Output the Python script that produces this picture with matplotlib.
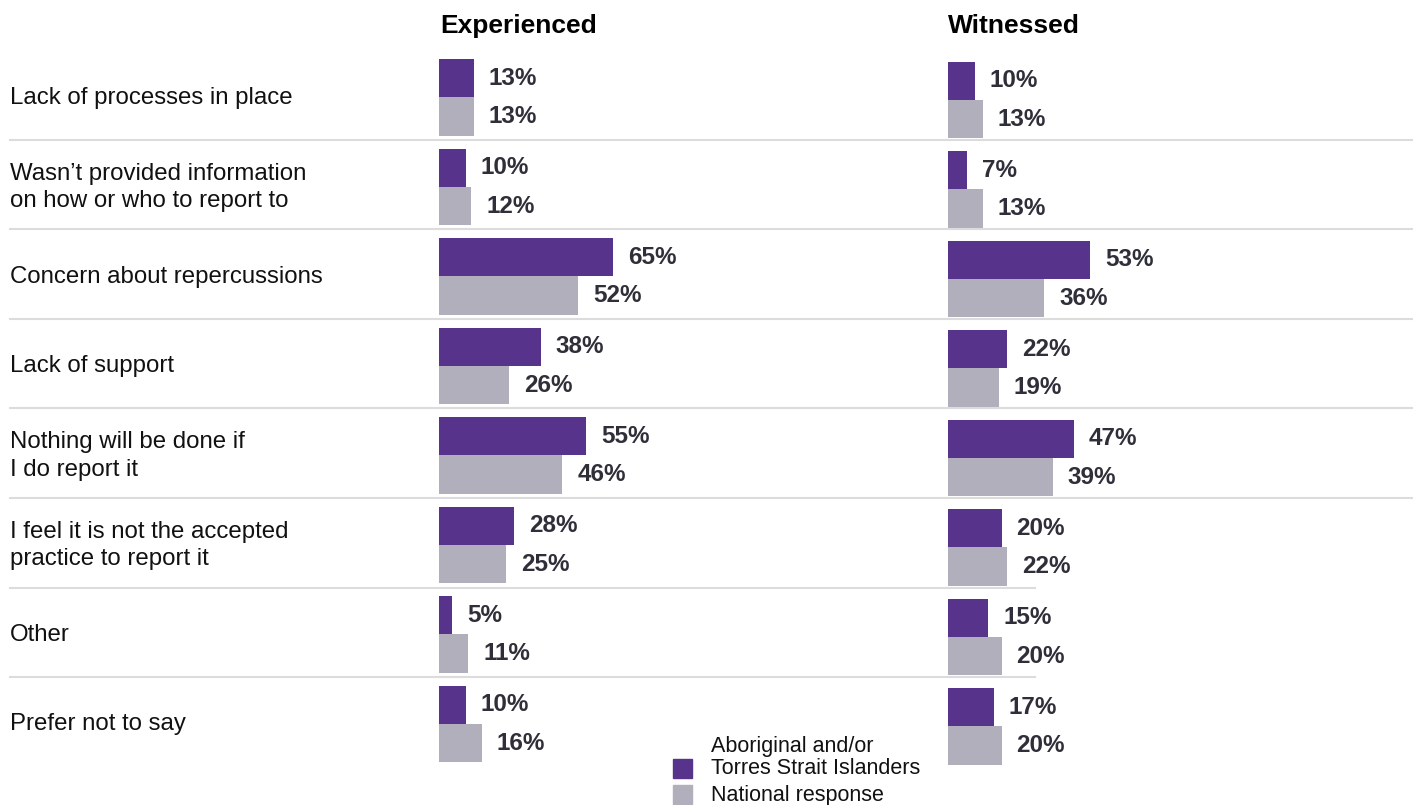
import matplotlib.pyplot as plt
import matplotlib.transforms as mtransforms
from matplotlib.lines import Line2D
from matplotlib.patches import Rectangle

plt.rcParams['font.family'] = ['Liberation Sans', 'DejaVu Sans']

categories = [
    "Lack of processes in place",
    "Wasn\u2019t provided information\non how or who to report to",
    "Concern about repercussions",
    "Lack of support",
    "Nothing will be done if\nI do report it",
    "I feel it is not the accepted\npractice to report it",
    "Other",
    "Prefer not to say",
]
exp_atsi = [13, 10, 65, 38, 55, 28, 5, 10]
exp_nat = [13, 12, 52, 26, 46, 25, 11, 16]
wit_atsi = [10, 7, 53, 22, 47, 20, 15, 17]
wit_nat = [13, 13, 36, 19, 39, 22, 20, 20]
panel_titles = ["Experienced", "Witnessed"]
series_names = ["Aboriginal and/or\nTorres Strait Islanders", "National response"]

purple = '#58338b'
grey = '#b0afbb'
label_col = '#2f2f3a'
line_col = '#dcdcdc'

W, H = 1413, 805
fig = plt.figure(figsize=(W / 100, H / 100), dpi=100)

top_px, row_px = 50.5, 89.5
n = len(categories)
ax_bottom = 1 - (top_px + n * row_px) / H
ax_height = n * row_px / H
scale_w = 268 / W  # width of 100%

ax_exp = fig.add_axes([439 / W, ax_bottom, scale_w, ax_height])
ax_wit = fig.add_axes([948 / W, ax_bottom - 2.5 / H, scale_w, ax_height])

bh = 0.43
for ax, a_vals, n_vals in [(ax_exp, exp_atsi, exp_nat), (ax_wit, wit_atsi, wit_nat)]:
    ys = [i + 0.025 for i in range(n)]
    ax.barh([y - bh / 2 for y in ys], a_vals, height=bh, color=purple)
    ax.barh([y + bh / 2 for y in ys], n_vals, height=bh, color=grey)
    for y, a, b in zip(ys, a_vals, n_vals):
        ax.annotate(f"{a}%", (a, y - bh / 2), xytext=(15, 0), textcoords='offset pixels',
                    va='center', ha='left', fontsize=17.5, fontweight='bold', color=label_col)
        ax.annotate(f"{b}%", (b, y + bh / 2), xytext=(15, 0), textcoords='offset pixels',
                    va='center', ha='left', fontsize=17.5, fontweight='bold', color=label_col)
    ax.set_xlim(0, 100)
    ax.set_ylim(n - 0.5, -0.5)
    ax.axis('off')

# panel titles
fig.text(440 / W, 1 - 26 / H, panel_titles[0], fontsize=19, fontweight='bold', va='center', ha='left')
fig.text(948 / W, 1 - 26 / H, panel_titles[1], fontsize=19, fontweight='bold', va='center', ha='left')

# category labels and separators
blend = mtransforms.blended_transform_factory(fig.transFigure, ax_exp.transData)
for i, cat in enumerate(categories):
    fig.text(10 / W, i + 0.03, cat, transform=blend, fontsize=17.3, va='center', ha='left',
             linespacing=1.32, color='#111111')
for k in range(n - 1):
    x_end = 1.0 if k < 5 else 1035 / W
    fig.add_artist(Line2D([10 / W, x_end], [k + 0.5, k + 0.5], transform=blend,
                          color=line_col, lw=1.5))

# legend
fig.add_artist(Rectangle((673 / W, 1 - 778 / H), 19 / W, 19 / H, transform=fig.transFigure,
                         color=purple))
fig.add_artist(Rectangle((673 / W, 1 - 804 / H), 19 / W, 19 / H, transform=fig.transFigure,
                         color=grey))
fig.text(711 / W, 1 - 757.5 / H, series_names[0], fontsize=15.5, va='center', ha='left',
         linespacing=1.05, color='#111111')
fig.text(711 / W, 1 - 795 / H, series_names[1], fontsize=15.5, va='center', ha='left',
         color='#111111')

fig.savefig('out.png', dpi=100)
